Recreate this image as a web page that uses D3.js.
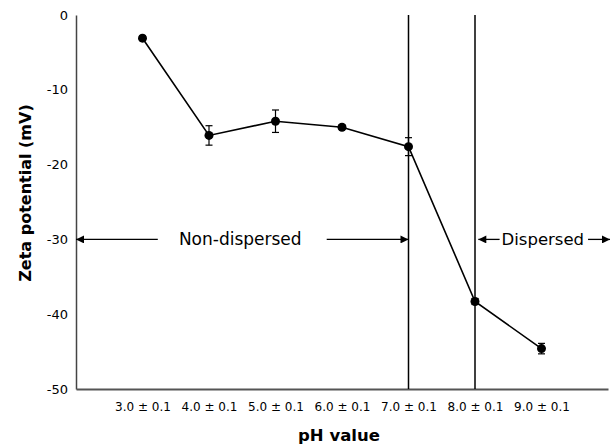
<!DOCTYPE html>
<html>
<head>
  <meta charset="utf-8">
  <title>Zeta potential vs pH</title>
  <script src="https://d3js.org/d3.v7.min.js"></script>
  <style>
    body { margin: 0; background: #fff; }
    text { font-family: "DejaVu Sans", sans-serif; fill: #000; }
  </style>
</head>
<body>

  <svg width="614" height="447"></svg>

  <script>

    // Data
    const phValues = [3, 4, 5, 6, 7, 8, 9];
    const phLabels = ["3.0 ± 0.1", "4.0 ± 0.1", "5.0 ± 0.1", "6.0 ± 0.1", "7.0 ± 0.1", "8.0 ± 0.1", "9.0 ± 0.1"];
    const zeta = [-3.1, -16.1, -14.2, -15.0, -17.6, -38.3, -44.6];
    const zetaErr = [0.3, 1.3, 1.5, 0.3, 1.2, 0.4, 0.7];
    const yTicks = [0, -10, -20, -30, -40, -50];
    const boundaries = [7, 8];

    // Dimensions
    const width = 614;
    const height = 447;
    const margin = { top: 15, right: 6, bottom: 58, left: 76 };
    const chartWidth = width - margin.left - margin.right;
    const chartHeight = height - margin.top - margin.bottom;

    const svg = d3.select("svg")
      .attr("width", width)
      .attr("height", height);

    const defs = svg.append("defs");
    defs.append("marker")
      .attr("id", "arrow")
      .attr("viewBox", "0 0 10 10")
      .attr("refX", 10)
      .attr("refY", 5)
      .attr("markerWidth", 9)
      .attr("markerHeight", 8)
      .attr("markerUnits", "userSpaceOnUse")
      .attr("orient", "auto")
      .append("path")
        .attr("d", "M0,0 L10,5 L0,10 Z")
        .attr("fill", "#000");

    const chart = svg.append("g")
      .attr("transform", `translate(${margin.left},${margin.top})`);

    // Scales
    const xScale = d3.scaleLinear()
      .domain([2, 10])
      .range([0, chartWidth]);

    const yScale = d3.scaleLinear()
      .domain([-50, 0])
      .range([chartHeight, 0]);

    // Axes (plain hyphen for negatives, like the original)
    const yAxis = chart.append("g")
      .call(d3.axisLeft(yScale).tickValues(yTicks)
        .tickFormat(d => String(d)).tickSize(0).tickPadding(8));
    yAxis.select(".domain").attr("stroke", "#444").attr("stroke-width", 1.5);
    yAxis.selectAll("text").style("font-size", "13px");

    const xAxis = chart.append("g")
      .attr("transform", `translate(0,${chartHeight})`)
      .call(d3.axisBottom(xScale).tickValues(phValues)
        .tickFormat((d, i) => phLabels[i]).tickSize(0).tickPadding(13));
    xAxis.select(".domain").attr("stroke", "#555").attr("stroke-width", 2);
    xAxis.selectAll("text").style("font-size", "12px");

    // Boundary lines
    chart.selectAll(".boundary")
      .data(boundaries)
      .enter().append("line")
        .attr("class", "boundary")
        .attr("x1", d => xScale(d))
        .attr("x2", d => xScale(d))
        .attr("y1", yScale(0))
        .attr("y2", chartHeight)
        .attr("stroke", "#000")
        .attr("stroke-width", 1.5);

    // Region annotations at -30 mV
    const arrows = [
      { from: 3.23, to: 2.0 },
      { from: 5.77, to: 7.0 },
      { from: 8.37, to: 8.05 },
      { from: 9.7, to: 10.03 }
    ];
    chart.selectAll(".region-arrow")
      .data(arrows)
      .enter().append("line")
        .attr("class", "region-arrow")
        .attr("x1", d => xScale(d.from))
        .attr("x2", d => xScale(d.to))
        .attr("y1", yScale(-30))
        .attr("y2", yScale(-30))
        .attr("stroke", "#000")
        .attr("stroke-width", 1.3)
        .attr("marker-end", "url(#arrow)");

    const regions = [
      { label: "Non-dispersed", x: 4.47, size: 17 },
      { label: "Dispersed", x: 9.02, size: 16.5 }
    ];
    chart.selectAll(".region-label")
      .data(regions)
      .enter().append("text")
        .attr("class", "region-label")
        .attr("x", d => xScale(d.x))
        .attr("y", yScale(-30))
        .attr("dy", "0.35em")
        .attr("text-anchor", "middle")
        .style("font-size", d => d.size + "px")
        .text(d => d.label);

    // Series
    const points = phValues.map((p, i) => ({ x: p, y: zeta[i], e: zetaErr[i] }));

    chart.append("path")
      .datum(points)
      .attr("fill", "none")
      .attr("stroke", "#000")
      .attr("stroke-width", 1.6)
      .attr("d", d3.line().x(d => xScale(d.x)).y(d => yScale(d.y)));

    const err = chart.selectAll(".err")
      .data(points)
      .enter().append("g")
        .attr("class", "err")
        .attr("stroke", "#000")
        .attr("stroke-width", 1.2);
    err.append("line")
      .attr("x1", d => xScale(d.x)).attr("x2", d => xScale(d.x))
      .attr("y1", d => yScale(d.y - d.e)).attr("y2", d => yScale(d.y + d.e));
    err.append("line")
      .attr("x1", d => xScale(d.x) - 3.5).attr("x2", d => xScale(d.x) + 3.5)
      .attr("y1", d => yScale(d.y - d.e)).attr("y2", d => yScale(d.y - d.e));
    err.append("line")
      .attr("x1", d => xScale(d.x) - 3.5).attr("x2", d => xScale(d.x) + 3.5)
      .attr("y1", d => yScale(d.y + d.e)).attr("y2", d => yScale(d.y + d.e));

    chart.selectAll(".dot")
      .data(points)
      .enter().append("circle")
        .attr("class", "dot")
        .attr("cx", d => xScale(d.x))
        .attr("cy", d => yScale(d.y))
        .attr("r", 4.5)
        .attr("fill", "#000");

    // Axis titles
    svg.append("text")
      .attr("transform", "translate(31,193) rotate(-90)")
      .attr("text-anchor", "middle")
      .style("font-size", "16px")
      .style("font-weight", "bold")
      .text("Zeta potential (mV)");

    svg.append("text")
      .attr("x", 339)
      .attr("y", 441)
      .attr("text-anchor", "middle")
      .style("font-size", "16.5px")
      .style("font-weight", "bold")
      .text("pH value");

  </script>

</body>
</html>
